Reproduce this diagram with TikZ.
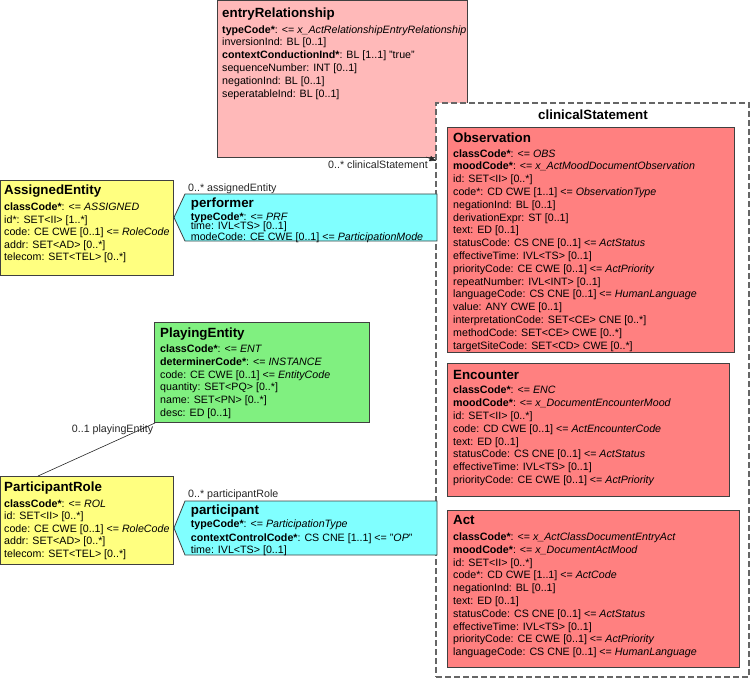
\documentclass[tikz,border=0pt]{standalone}
\usepackage{fontspec}
\setmainfont{Liberation Sans}
\usetikzlibrary{calc,arrows.meta,shadows}
\definecolor{erpink}{RGB}{255,185,185}
\definecolor{actred}{RGB}{255,128,128}
\definecolor{roleyellow}{RGB}{255,255,128}
\definecolor{entgreen}{RGB}{128,240,128}
\definecolor{partcyan}{RGB}{128,255,255}
\definecolor{edge}{RGB}{64,64,64}
\begin{document}
\begin{tikzpicture}[x=1pt,y=-1pt,
  box/.style={draw=edge, line width=0.8pt, inner sep=0pt, outer sep=0pt, anchor=north west, rectangle,
    general shadow={shadow xshift=1.2pt, shadow yshift=-1.2pt, fill=black, opacity=0.35}},
  ttl/.style={font=\fontsize{13.33}{16}\selectfont\bfseries, anchor=base west, inner sep=0pt},
  attr/.style={font=\fontsize{10.67}{12.8}\selectfont, anchor=base west, inner sep=0pt},
  lbl/.style={font=\fontsize{10.67}{12.8}\selectfont, anchor=base west, inner sep=0pt, text=black!85},
  assoc/.style={draw=black!85, line width=0.6pt}
]
\useasboundingbox (0,0) rectangle (752,679);

% entryRelationship
\node[box, fill=erpink, minimum width=250pt, minimum height=157pt] (er) at (217,0) {};
\node[ttl] (ert) at (222,17.5) {entryRelationship};
\foreach \t [count=\i from 0] in {
  {\textbf{typeCode*}: <= \textit{x\_ActRelationshipEntryRelationship}},
  {inversionInd: BL [0..1]},
  {\textbf{contextConductionInd*}: BL [1..1] "true"},
  {sequenceNumber: INT [0..1]},
  {negationInd: BL [0..1]},
  {seperatableInd: BL [0..1]}}
  \node[attr] (er\i) at (222,33.1+12.8*\i) {\t};

% clinicalStatement container
\node[draw=black!60, fill=white, line width=1.1pt, dash pattern=on 6pt off 3pt, inner sep=0pt, outer sep=0pt,
  anchor=north west, minimum width=313pt, minimum height=574pt] (cs) at (436,103) {};
\node[ttl, anchor=base] (cst) at (593,119.8) {clinicalStatement};

% Observation
\node[box, fill=actred, minimum width=287pt, minimum height=225pt] (obs) at (447,127) {};
\node[ttl] (obst) at (453,142.1) {Observation};
\foreach \t [count=\i from 0] in {
  {\textbf{classCode*}: <= \textit{OBS}},
  {\textbf{moodCode*}: <= \textit{x\_ActMoodDocumentObservation}},
  {id: SET<II> [0..*]},
  {code*: CD CWE [1..1] <= \textit{ObservationType}},
  {negationInd: BL [0..1]},
  {derivationExpr: ST [0..1]},
  {text: ED [0..1]},
  {statusCode: CS CNE [0..1] <= \textit{ActStatus}},
  {effectiveTime: IVL<TS> [0..1]},
  {priorityCode: CE CWE [0..1] <= \textit{ActPriority}},
  {repeatNumber: IVL<INT> [0..1]},
  {languageCode: CS CNE [0..1] <= \textit{HumanLanguage}},
  {value: ANY CWE [0..1]},
  {interpretationCode: SET<CE> CNE [0..*]},
  {methodCode: SET<CE> CWE [0..*]},
  {targetSiteCode: SET<CD> CWE [0..*]}}
  \node[attr] (ob\i) at (453,157.1+12.8*\i) {\t};

% Encounter
\node[box, fill=actred, minimum width=282pt, minimum height=133pt] (enc) at (447,363) {};
\node[ttl] (enct) at (453,379.8) {Encounter};
\foreach \t [count=\i from 0] in {
  {\textbf{classCode*}: <= \textit{ENC}},
  {\textbf{moodCode*}: <= \textit{x\_DocumentEncounterMood}},
  {id: SET<II> [0..*]},
  {code: CD CWE [0..1] <= \textit{ActEncounterCode}},
  {text: ED [0..1]},
  {statusCode: CS CNE [0..1] <= \textit{ActStatus}},
  {effectiveTime: IVL<TS> [0..1]},
  {priorityCode: CE CWE [0..1] <= \textit{ActPriority}}}
  \node[attr] (en\i) at (453,393.8+12.8*\i) {\t};

% Act
\node[box, fill=actred, minimum width=292pt, minimum height=157pt] (act) at (447,510) {};
\node[ttl] (actt) at (453,524.8) {Act};
\foreach \t [count=\i from 0] in {
  {\textbf{classCode*}: <= \textit{x\_ActClassDocumentEntryAct}},
  {\textbf{moodCode*}: <= \textit{x\_DocumentActMood}},
  {id: SET<II> [0..*]},
  {code*: CD CWE [1..1] <= \textit{ActCode}},
  {negationInd: BL [0..1]},
  {text: ED [0..1]},
  {statusCode: CS CNE [0..1] <= \textit{ActStatus}},
  {effectiveTime: IVL<TS> [0..1]},
  {priorityCode: CE CWE [0..1] <= \textit{ActPriority}},
  {languageCode: CS CNE [0..1] <= \textit{HumanLanguage}}}
  \node[attr] (ac\i) at (453,540.5+12.8*\i) {\t};

% performer (pointed participation shape)
\coordinate (perf) at (174,217.5);
\filldraw[fill=partcyan, draw=edge, line width=0.8pt]
  (perf) -- (185,194) -- (437,194) -- (437,241) -- (185,241) -- cycle;
\node[ttl] (perft) at (190.7,207.1) {performer};
\node[attr] (pf0) at (190.7,220.5) {\textbf{typeCode*}: <= \textit{PRF}};
\node[attr] (pf1) at (190.7,229.7) {time: IVL<TS> [0..1]};
\node[attr] (pf2) at (190.7,240.3) {modeCode: CE CWE [0..1] <= \textit{ParticipationMode}};

% participant
\coordinate (part) at (174,528);
\filldraw[fill=partcyan, draw=edge, line width=0.8pt]
  (part) -- (185,501) -- (437,501) -- (437,555) -- (185,555) -- cycle;
\node[ttl] (partt) at (190.7,514.1) {participant};
\node[attr] (pa0) at (190.7,527.8) {\textbf{typeCode*}: <= \textit{ParticipationType}};
\node[attr] (pa1) at (190.7,541.1) {\textbf{contextControlCode*}: CS CNE [1..1] <= "\textit{OP}"};
\node[attr] (pa2) at (190.7,553.6) {time: IVL<TS> [0..1]};

% AssignedEntity
\node[box, fill=roleyellow, minimum width=173pt, minimum height=95pt] (ae) at (0,180) {};
\node[ttl] (aet) at (4,194.8) {AssignedEntity};
\foreach \t [count=\i from 0] in {
  {\textbf{classCode*}: <= \textit{ASSIGNED}},
  {id*: SET<II> [1..*]},
  {code: CE CWE [0..1] <= \textit{RoleCode}},
  {addr: SET<AD> [0..*]},
  {telecom: SET<TEL> [0..*]}}
  \node[attr] (ae\i) at (4,210.5+12.6*\i) {\t};

% PlayingEntity
\node[box, fill=entgreen, minimum width=215pt, minimum height=100pt] (pe) at (154,322) {};
\node[ttl] (pet) at (160,337.8) {PlayingEntity};
\foreach \t [count=\i from 0] in {
  {\textbf{classCode*}: <= \textit{ENT}},
  {\textbf{determinerCode*}: <= \textit{INSTANCE}},
  {code: CE CWE [0..1] <= \textit{EntityCode}},
  {quantity: SET<PQ> [0..*]},
  {name: SET<PN> [0..*]},
  {desc: ED [0..1]}}
  \node[attr] (pe\i) at (160,352.5+12.8*\i) {\t};

% ParticipantRole
\node[box, fill=roleyellow, minimum width=173pt, minimum height=88pt] (pr) at (0,476) {};
\node[ttl] (prt) at (4,491.5) {ParticipantRole};
\foreach \t [count=\i from 0] in {
  {\textbf{classCode*}: <= \textit{ROL}},
  {id: SET<II> [0..*]},
  {code: CE CWE [0..1] <= \textit{RoleCode}},
  {addr: SET<AD> [0..*]},
  {telecom: SET<TEL> [0..*]}}
  \node[attr] (pr\i) at (4,507.1+12.6*\i) {\t};

% connectors
\draw[assoc] ($(pe.south west)+(1,1)$) -- ($(pr.north west)+(38,0)$);
\draw[assoc, -{Latex[length=7pt,width=6pt]}] ($(er.south east)+(-41,0)$) -- ($(cs.north west)+(0.5,58)$);

% association labels
\node[lbl] (l1) at (328,168.8) {0..* clinicalStatement};
\node[lbl] (l2) at (188,191.5) {0..* assignedEntity};
\node[lbl] (l3) at (188,497.8) {0..* participantRole};
\node[lbl] (l4) at (71.7,432.1) {0..1 playingEntity};
\end{tikzpicture}
\end{document}
